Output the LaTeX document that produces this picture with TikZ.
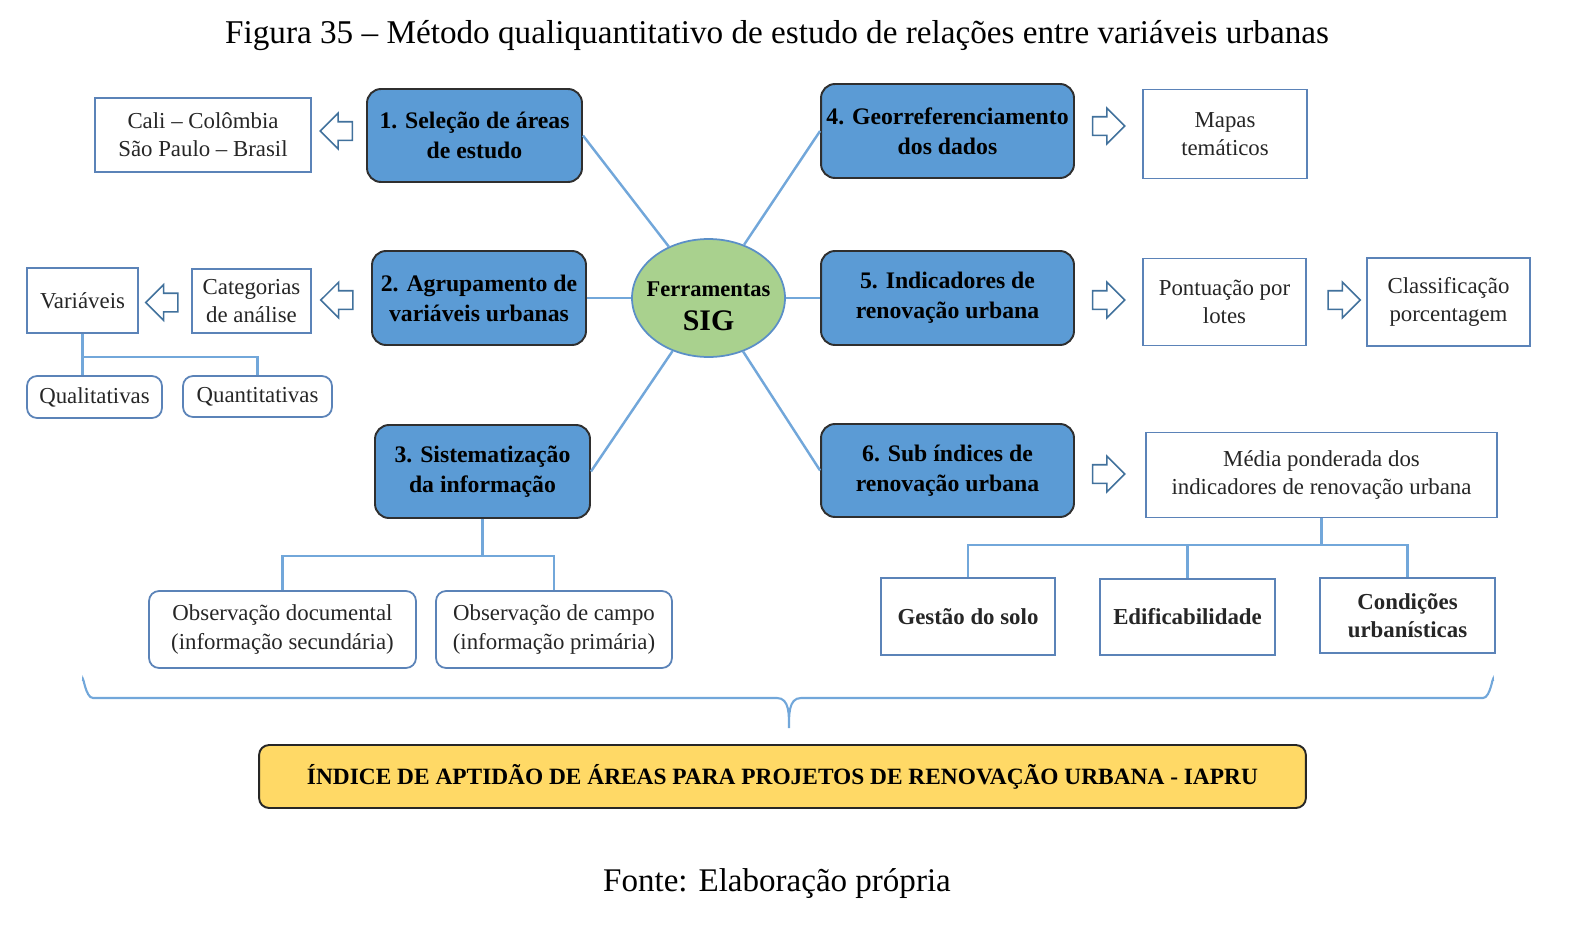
\documentclass[tikz,border=0pt]{standalone}
\usepackage{fontspec}
\setmainfont{Liberation Serif}
\usepackage{tikz}
\usetikzlibrary{shapes.geometric,shapes.arrows}
\definecolor{etapaazul}{HTML}{5B9BD5}
\definecolor{etapaborda}{HTML}{2F2F2F}
\definecolor{caixaborda}{HTML}{5B83B8}
\definecolor{ligaazul}{HTML}{72A7DA}
\definecolor{setaborda}{HTML}{41719C}
\definecolor{sigverde}{HTML}{A9D18E}
\definecolor{sigborda}{HTML}{5B8FC7}
\definecolor{iapruamarelo}{HTML}{FFD966}
\tikzset{
  etapa/.style={draw=etapaborda, fill=etapaazul, line width=1.1pt, rounded corners=0.28cm,
    align=center, inner sep=0pt, font=\bfseries\fontsize{13.5}{17}\selectfont},
  caixa/.style={draw=caixaborda, fill=white, line width=1pt, align=center, inner sep=0pt,
    text=black!85, font=\fontsize{13}{16}\selectfont},
  caixar/.style={caixa, rounded corners=0.2cm},
  caixab/.style={caixa, font=\bfseries\fontsize{13}{16}\selectfont},
  liga/.style={draw=ligaazul, line width=1.4pt},
  seta/.style={single arrow, draw=setaborda, fill=white, line width=0.9pt, inner sep=0.17cm,
    minimum height=0.64cm, single arrow head extend=0.17cm},
  setae/.style={seta, shape border rotate=180}
}
\begin{document}
\begin{tikzpicture}[x=0.02cm, y=-0.02cm]
\useasboundingbox (0,0) rectangle (1572,930);

% titulo e fonte
\node[font=\fontsize{18.9}{22}\selectfont] (titulo) at (777,36) {Figura 35 -- Método qualiquantitativo de estudo de relações entre variáveis urbanas};
\node[font=\fontsize{18.8}{22}\selectfont] (fonte) at (777,884) {Fonte: Elaboração própria};

% centro
\node[ellipse, draw=sigborda, fill=sigverde, line width=1pt, minimum width=3.06cm, minimum height=2.36cm,
  inner xsep=-5pt, inner ysep=0pt, font=\bfseries\fontsize{12.8}{16}\selectfont] (sig) at (708.5,298)
  {\raisebox{0pt}[\height][\dimexpr\depth-0.4cm\relax]{\begin{tabular}{@{}c@{}}Ferramentas\\[3pt]{\fontsize{17}{20}\selectfont SIG}\end{tabular}}};

% etapas
\node[etapa, minimum width=4.3cm, minimum height=1.86cm] (b1) at (474.5,135.5) {1. Seleção de áreas\\de estudo};
\node[etapa, minimum width=4.28cm, minimum height=1.88cm] (b2) at (479,298) {2. Agrupamento de\\variáveis urbanas};
\node[etapa, minimum width=4.3cm, minimum height=1.86cm] (b3) at (482.5,471.5) {3. Sistematização\\da informação};
\node[etapa, minimum width=5.06cm, minimum height=1.88cm] (b4) at (947.5,131) {4. Georreferenciamento\\dos dados};
\node[etapa, minimum width=5.06cm, minimum height=1.88cm] (b5) at (947.5,298) {5. Indicadores de\\renovação urbana};
\node[etapa, minimum width=5.06cm, minimum height=1.86cm] (b6) at (947.5,470.5) {6. Sub índices de\\renovação urbana};

\draw[liga] (b1.east) -- (sig);
\draw[liga] (b2.east) -- (sig);
\draw[liga] (b3.east) -- (sig);
\draw[liga] (b4.west) -- (sig);
\draw[liga] (b5.west) -- (sig);
\draw[liga] (b6.west) -- (sig);

% lado esquerdo
\node[caixa, minimum width=4.32cm, minimum height=1.48cm] (cali) at (203,135) {Cali -- Colômbia\\São Paulo -- Brasil};
\node[caixa, minimum width=2.22cm, minimum height=1.3cm] (var) at (82.5,300.5) {Variáveis};
\node[caixa, minimum width=2.38cm, minimum height=1.28cm] (cat) at (251.5,301) {Categorias\\de análise};
\node[caixar, minimum width=2.7cm, minimum height=0.84cm] (qual) at (94.5,397) {Qualitativas};
\node[caixar, minimum width=2.98cm, minimum height=0.82cm] (quant) at (257.5,396.5) {Quantitativas};
\node[setae] (s1) at (341,131) {};
\node[setae] (s2) at (341.5,300) {};
\node[setae] (s3) at (166.5,302.5) {};

\coordinate (ramo2) at (82.5,357);
\draw[liga] (var.south) -- (var.south |- qual.north);
\draw[liga] (ramo2) -| (quant.north);

\node[caixar, minimum width=5.34cm, minimum height=1.54cm] (obsdoc) at (282.5,629.5) {Observação documental\\(informação secundária)};
\node[caixar, minimum width=4.72cm, minimum height=1.54cm] (obscampo) at (554,629.5) {Observação de campo\\(informação primária)};
\coordinate (ramo3) at (482.5,556);
\draw[liga] (b3.south) -- (ramo3);
\draw[liga] (obsdoc.north) |- (ramo3) -| (obscampo.north);

% lado direito
\node[seta] (s4) at (1104,126) {};
\node[seta] (s5) at (1104,300) {};
\node[seta] (s6) at (1339.5,300) {};
\node[seta] (s7) at (1104,474) {};
\node[caixa, minimum width=3.28cm, minimum height=1.78cm] (mapas) at (1225,134) {Mapas\\temáticos};
\node[caixa, minimum width=3.26cm, minimum height=1.74cm] (pont) at (1224.5,302) {Pontuação por\\lotes};
\node[caixa, minimum width=3.26cm, minimum height=1.76cm] (classif) at (1448.5,302) {Classificação\\porcentagem};
\node[caixa, minimum width=7.02cm, minimum height=1.7cm] (media) at (1321.5,475) {Média ponderada dos\\indicadores de renovação urbana};
\node[caixab, minimum width=3.48cm, minimum height=1.54cm] (gestao) at (968,616.5) {Gestão do solo};
\node[caixab, minimum width=3.5cm, minimum height=1.52cm] (edif) at (1187.5,617) {Edificabilidade};
\node[caixab, minimum width=3.5cm, minimum height=1.5cm] (cond) at (1407.5,615.5) {Condições\\urbanísticas};
\coordinate (ramo6) at (1321.5,545);
\draw[liga] (media.south) -- (ramo6);
\draw[liga] (gestao.north) |- (ramo6) -| (cond.north);
\draw[liga] (edif.north) -- (edif.north |- ramo6);

% chave e indice final
\coordinate (chaveE) at (83,681);
\coordinate (chaveD) at (1493,681);
\coordinate (chaveP) at (789,728);
\draw[liga, line width=1.2pt] (chaveE) to[out=90,in=180] ++(10,17) -- (777,698)
  to[out=0,in=90] (chaveP) to[out=90,in=180] (801,698) -- (1483,698) to[out=0,in=90] (chaveD);
\node[draw=black!85, fill=iapruamarelo, line width=1.1pt, rounded corners=0.2cm, minimum width=20.94cm,
  minimum height=1.26cm, font=\bfseries\fontsize{13.3}{16}\selectfont] (iapru) at (782.5,776.5)
  {ÍNDICE DE APTIDÃO DE ÁREAS PARA PROJETOS DE RENOVAÇÃO URBANA - IAPRU};
\end{tikzpicture}
\end{document}
